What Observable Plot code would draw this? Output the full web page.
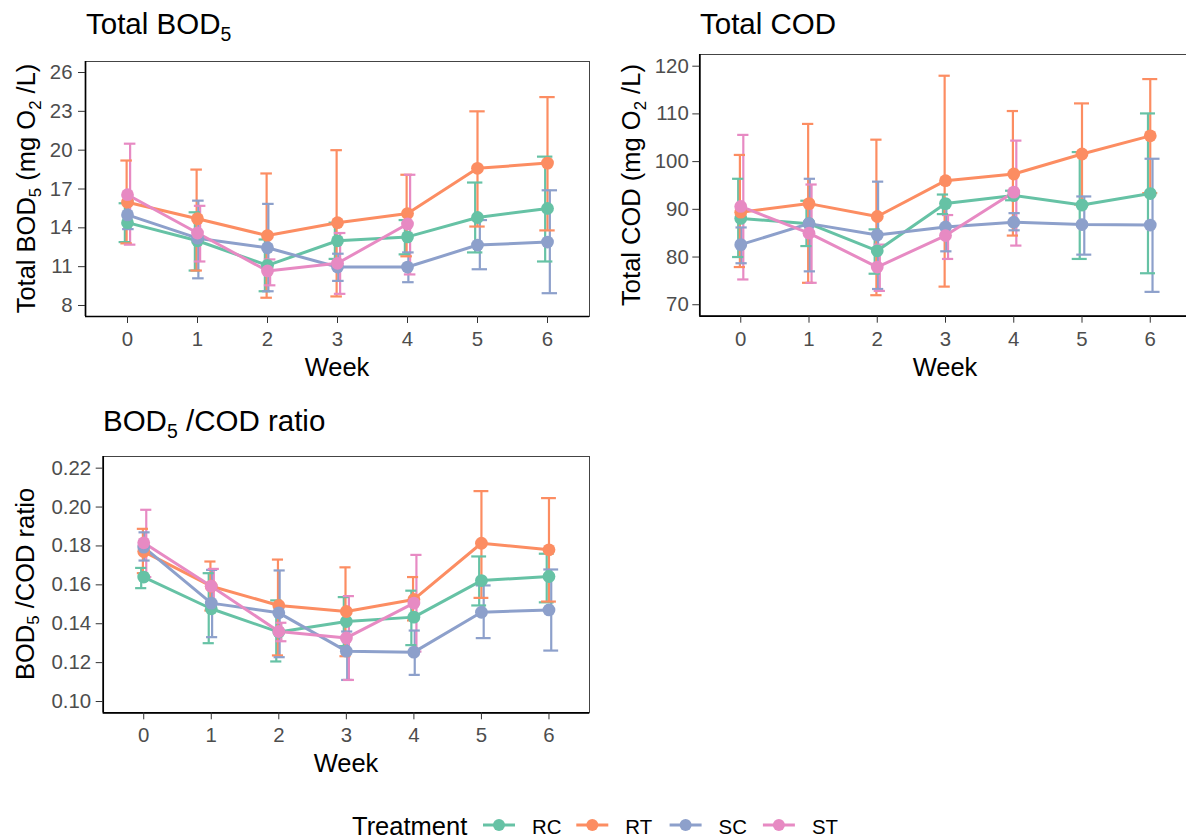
<!DOCTYPE html>
<html><head><meta charset="utf-8">
<script src="https://cdn.jsdelivr.net/npm/d3@7"></script>
<script src="https://cdn.jsdelivr.net/npm/@observablehq/plot@0.6"></script>
<style>
html,body{margin:0;padding:0;background:#fff;overflow:hidden;}
#page{position:relative;width:1186px;height:839px;overflow:hidden;background:#fff;}
#page svg{position:absolute;}
</style></head><body><div id="page"></div>
<script>
// ---------- data ----------
const weeks = [0, 1, 2, 3, 4, 5, 6];
const treatments = ["RC", "RT", "SC", "ST"];
const colors = ["#66C2A5", "#FC8D62", "#8DA0CB", "#E78AC3"];

// Total BOD5 (mg O2/L): mean, lower, upper
const bod_RC = [14.4, 13.0, 11.1, 13.0, 13.3, 14.8, 15.5];
const bod_RC_lo = [12.9, 10.7, 9.1, 11.6, 11.95, 12.1, 11.4];
const bod_RC_hi = [15.9, 15.2, 13.1, 14.4, 14.6, 17.5, 19.5];
const bod_RT = [15.97, 14.7, 13.4, 14.4, 15.1, 18.6, 19.0];
const bod_RT_lo = [12.8, 10.7, 8.6, 8.7, 11.8, 14.1, 13.8];
const bod_RT_hi = [19.2, 18.5, 18.2, 20.0, 18.1, 23.0, 24.1];
const bod_SC = [15.0, 13.2, 12.46, 10.97, 10.97, 12.67, 12.9];
const bod_SC_lo = [13.9, 10.1, 9.1, 9.9, 9.8, 10.8, 8.95];
const bod_SC_hi = [16.1, 16.1, 15.85, 12.0, 12.1, 14.6, 16.9];
const bod_ST = [16.56, 13.6, 10.67, 11.26, 14.3, null, null];
const bod_ST_lo = [12.7, 11.4, 9.56, 8.9, 10.4, null, null];
const bod_ST_hi = [20.5, 15.7, 11.56, 13.6, 18.1, null, null];

// Total COD (mg O2/L)
const cod_RC = [88.1, 87.0, 81.3, 91.2, 92.9, 90.9, 93.3];
const cod_RC_lo = [80.0, 82.3, 76.5, 89.0, 91.9, 79.6, 76.6];
const cod_RC_hi = [96.4, 91.8, 85.8, 93.1, 93.9, 102.0, 110.1];
const cod_RT = [89.4, 91.2, 88.5, 96.0, 97.4, 101.6, 105.4];
const cod_RT_lo = [77.9, 74.6, 72.0, 73.8, 84.5, 91.0, 93.4];
const cod_RT_hi = [101.4, 107.9, 104.6, 118.0, 110.6, 112.2, 117.3];
const cod_SC = [82.6, 87.0, 84.6, 86.3, 87.3, 86.8, 86.7];
const cod_SC_lo = [78.7, 77.0, 73.3, 81.2, 85.6, 80.5, 72.7];
const cod_SC_hi = [86.2, 96.4, 95.8, 91.4, 89.2, 92.7, 100.6];
const cod_ST = [90.6, 85.0, 77.9, 84.5, 93.6, null, null];
const cod_ST_lo = [75.3, 74.6, 72.9, 79.6, 82.4, null, null];
const cod_ST_hi = [105.6, 95.2, 82.6, 88.8, 104.4, null, null];

// BOD5/COD ratio
const rat_RC = [0.164, 0.1477, 0.1357, 0.1411, 0.1434, 0.1622, 0.1643];
const rat_RC_lo = [0.1583, 0.130, 0.1206, 0.1285, 0.129, 0.1494, 0.151];
const rat_RC_hi = [0.1687, 0.166, 0.152, 0.1537, 0.157, 0.1746, 0.176];
const rat_RT = [0.1771, 0.1593, 0.1494, 0.1463, 0.1525, 0.1814, 0.178];
const rat_RT_lo = [0.166, 0.1468, 0.1237, 0.1233, 0.1417, 0.1533, 0.1514];
const rat_RT_hi = [0.1888, 0.172, 0.173, 0.169, 0.164, 0.2082, 0.2046];
const rat_SC = [0.1794, 0.1506, 0.1456, 0.1259, 0.1254, 0.1459, 0.1471];
const rat_SC_lo = [0.1725, 0.1331, 0.1228, 0.1111, 0.1137, 0.1326, 0.1262];
const rat_SC_hi = [0.187, 0.1677, 0.1674, 0.136, 0.1365, 0.1597, 0.1679];
const rat_ST = [0.1816, 0.1593, 0.136, 0.1327, 0.1506, null, null];
const rat_ST_lo = [0.164, 0.150, 0.131, 0.1111, 0.1257, null, null];
const rat_ST_hi = [0.1986, 0.1682, 0.1405, 0.1542, 0.1754, null, null];

const bodTicks = [8, 11, 14, 17, 20, 23, 26];
const codTicks = [70, 80, 90, 100, 110, 120];
const ratTicks = [0.10, 0.12, 0.14, 0.16, 0.18, 0.20, 0.22];

// ---------- build rows (dodged error bars like position_dodge(0.1)) ----------
function buildRows(series) {
  const rows = [];
  weeks.forEach((w, wi) => {
    const present = treatments.filter(t => series[t][0][wi] != null);
    const n = present.length;
    present.forEach((t, i) => {
      const xd = w + 0.1 * ((i + 0.5) / n - 0.5);
      const half = 0.66 / n / 2;
      rows.push({trt: t, week: w, mean: series[t][0][wi], lo: series[t][1][wi], hi: series[t][2][wi],
                 xd, xa: xd - half, xb: xd + half});
    });
  });
  rows.sort((a, b) => treatments.indexOf(a.trt) - treatments.indexOf(b.trt) || a.week - b.week);
  return rows;
}
const bodRows = buildRows({RC: [bod_RC, bod_RC_lo, bod_RC_hi], RT: [bod_RT, bod_RT_lo, bod_RT_hi],
                           SC: [bod_SC, bod_SC_lo, bod_SC_hi], ST: [bod_ST, bod_ST_lo, bod_ST_hi]});
const codRows = buildRows({RC: [cod_RC, cod_RC_lo, cod_RC_hi], RT: [cod_RT, cod_RT_lo, cod_RT_hi],
                           SC: [cod_SC, cod_SC_lo, cod_SC_hi], ST: [cod_ST, cod_ST_lo, cod_ST_hi]});
const ratRows = buildRows({RC: [rat_RC, rat_RC_lo, rat_RC_hi], RT: [rat_RT, rat_RT_lo, rat_RT_hi],
                           SC: [rat_SC, rat_SC_lo, rat_SC_hi], ST: [rat_ST, rat_ST_lo, rat_ST_hi]});

const FONT = '"Liberation Sans", Arial, sans-serif';
const page = document.getElementById("page");

function panel(o) {
  const chart = Plot.plot({
    width: o.width, height: o.height,
    marginLeft: o.mL, marginRight: o.mR, marginTop: o.mT, marginBottom: o.mB,
    style: {fontFamily: FONT, fontSize: "20.4px", background: "transparent", overflow: "visible"},
    x: {domain: [-0.6, 6.6]},
    y: {domain: o.yDomain},
    color: {domain: treatments, range: colors},
    marks: [
      Plot.frame({stroke: "#444", strokeWidth: 1}),
      Plot.ruleX(o.rows, {x: "xd", y1: "lo", y2: "hi", stroke: "trt", strokeWidth: 2.2}),
      Plot.ruleY(o.rows, {y: "hi", x1: "xa", x2: "xb", stroke: "trt", strokeWidth: 2.2}),
      Plot.ruleY(o.rows, {y: "lo", x1: "xa", x2: "xb", stroke: "trt", strokeWidth: 2.2}),
      Plot.lineY(o.rows, {x: "week", y: "mean", stroke: "trt", z: "trt", strokeWidth: 3}),
      Plot.dot(o.rows, {x: "week", y: "mean", fill: "trt", r: 6.4}),
      Plot.ruleX([-0.6], {stroke: "#000", strokeWidth: 1.7}),
      Plot.ruleY([o.yDomain[0]], {stroke: "#000", strokeWidth: 1.7}),
      Plot.axisX({ticks: weeks, tickSize: 7, tickPadding: 8, stroke: "#333", fill: "#4D4D4D",
                  fontSize: 20.4, label: null, tickFormat: d => String(d)}),
      Plot.axisY({ticks: o.yTicks, tickSize: 7, tickPadding: o.tickPad, tickFormat: o.yFormat,
                  stroke: "#333", fill: "#4D4D4D", fontSize: 20.4, label: null})
    ]
  });
  chart.style.left = o.left + "px";
  chart.style.top = o.top + "px";
  page.appendChild(chart);
}

panel({rows: bodRows, yDomain: [7.15, 26.85], yTicks: bodTicks, yFormat: d => String(d),
       left: 0, top: 0, width: 600, height: 400, mL: 85, mR: 11, mT: 61, mB: 84, tickPad: 6});
panel({rows: codRows, yDomain: [67.6, 122.45], yTicks: codTicks, yFormat: d => String(d),
       left: 600, top: 0, width: 591, height: 400, mL: 99.3, mR: 0.3, mT: 54, mB: 84.3, tickPad: 4});
panel({rows: ratRows, yDomain: [0.0942, 0.226], yTicks: ratTicks, yFormat: d3.format(".2f"),
       left: 0, top: 400, width: 600, height: 400, mL: 102.7, mR: 11, mT: 56, mB: 87.7, tickPad: 5});

// ---------- text overlay: titles, axis titles, legend ----------
const svg = d3.create("svg").attr("width", 1186).attr("height", 839)
  .style("left", "0px").style("top", "0px").style("pointer-events", "none")
  .attr("font-family", FONT);

function label(parts, {x, y, fs, anchor = "start", rotate = false, fill = "#000", subScale = 0.66}) {
  const t = svg.append("text")
    .attr("font-size", fs).attr("fill", fill).attr("text-anchor", anchor)
    .attr("transform", rotate ? `translate(${x},${y}) rotate(-90)` : `translate(${x},${y})`);
  let down = false;
  parts.forEach(p => {
    const isSub = typeof p === "object";
    const s = t.append("tspan").text(isSub ? p.sub : p);
    if (isSub) { s.attr("font-size", fs * subScale).attr("dy", fs * 0.23); down = true; }
    else if (down) { s.attr("dy", -fs * 0.23); down = false; }
  });
}

const TT = 29.5, AX = 25.5, TK = 20.4;
label(["Total BOD", {sub: "5"}], {x: 86, y: 34, fs: TT});
label(["Total COD"], {x: 700, y: 34, fs: TT});
label(["BOD", {sub: "5"}, " /COD ratio"], {x: 103, y: 431, fs: TT});

label(["Total BOD", {sub: "5"}, "  (mg O", {sub: "2"}, " /L)"], {x: 35, y: 188.5, fs: AX, anchor: "middle", rotate: true});
label(["Total COD (mg O", {sub: "2"}, " /L)"], {x: 640, y: 185, fs: AX, anchor: "middle", rotate: true});
label(["BOD", {sub: "5"}, " /COD ratio"], {x: 33.5, y: 584, fs: AX, anchor: "middle", rotate: true});

label(["Week"], {x: 337, y: 376, fs: AX, anchor: "middle"});
label(["Week"], {x: 945, y: 376, fs: AX, anchor: "middle"});
label(["Week"], {x: 346, y: 772, fs: AX, anchor: "middle"});

// legend
label(["Treatment"], {x: 352, y: 835, fs: AX});
treatments.forEach((t, i) => {
  const x0 = 483 + i * 93.3;
  svg.append("line").attr("x1", x0).attr("x2", x0 + 32).attr("y1", 825).attr("y2", 825)
    .attr("stroke", colors[i]).attr("stroke-width", 3);
  svg.append("circle").attr("cx", x0 + 16).attr("cy", 825).attr("r", 6).attr("fill", colors[i]);
  label([t], {x: x0 + 49, y: 834, fs: TK});
});

page.appendChild(svg.node());
</script>
</body></html>
